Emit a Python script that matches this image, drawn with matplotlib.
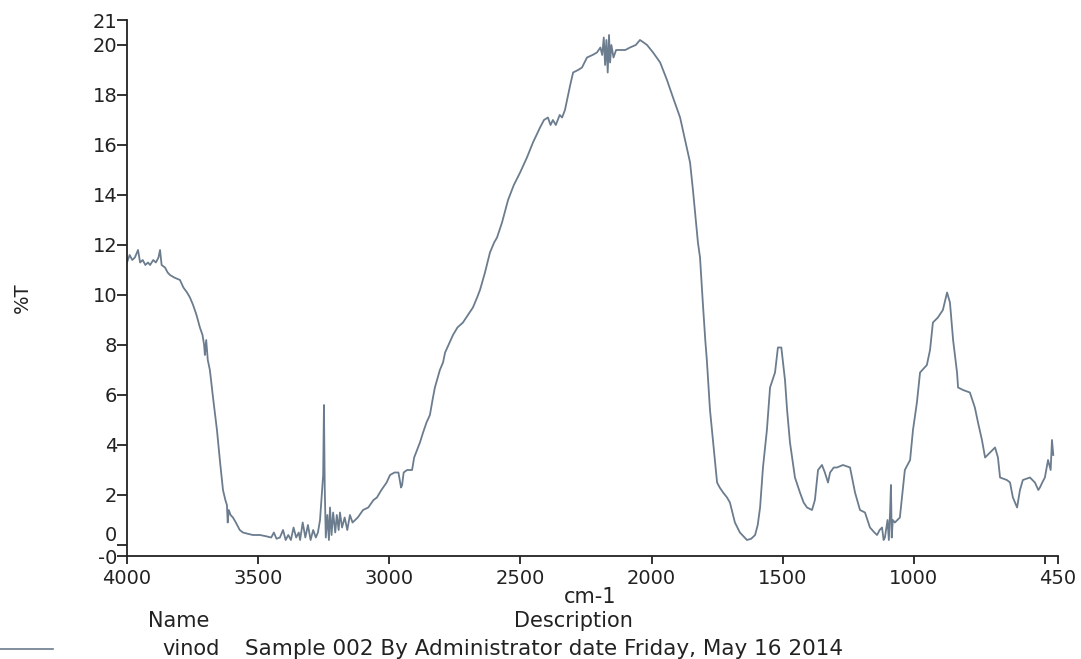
import matplotlib
matplotlib.use("Agg")
import matplotlib.pyplot as plt

# spectrum (cm-1, %T)
wavenumber = [4000, 3990, 3980, 3970, 3958, 3950, 3940, 3930, 3920, 3912, 3900, 3890, 3880, 3874, 3868,
              3855, 3845, 3836, 3820, 3798, 3785, 3771, 3760, 3748, 3735, 3722, 3712, 3706, 3703, 3698,
              3692, 3684, 3672, 3657, 3645, 3634, 3625, 3619, 3616, 3612, 3605, 3596, 3585, 3570, 3558,
              3540, 3520, 3493, 3470, 3450, 3440, 3430, 3417, 3405, 3395, 3385, 3375, 3365, 3355, 3345,
              3340, 3330, 3320, 3310, 3300, 3290, 3280, 3272, 3264, 3258, 3252, 3249, 3246, 3242, 3236,
              3230, 3226, 3220, 3214, 3206, 3200, 3193, 3188, 3180, 3170, 3160, 3150, 3140, 3120, 3100,
              3080, 3060, 3047, 3030, 3010, 2997, 2980, 2965, 2955, 2951, 2945, 2932, 2913, 2905, 2894,
              2883, 2871, 2858, 2845, 2835, 2826, 2815, 2807, 2795, 2787, 2770, 2757, 2740, 2719, 2700,
              2681, 2665, 2654, 2635, 2616, 2600, 2589, 2570, 2547, 2525, 2501, 2475, 2452, 2425, 2410,
              2395, 2385, 2376, 2365, 2350, 2341, 2330, 2322, 2310, 2299, 2280, 2265, 2246, 2225, 2208,
              2195, 2188, 2182, 2177, 2172, 2167, 2162, 2158, 2153, 2145, 2135, 2120, 2100, 2082, 2060,
              2044, 2030, 2017, 1994, 1967, 1941, 1918, 1891, 1872, 1853, 1842, 1823, 1815, 1805, 1795,
              1789, 1777, 1766, 1750, 1740, 1727, 1712, 1701, 1682, 1663, 1636, 1620, 1605, 1595, 1586,
              1575, 1560, 1548, 1529, 1518, 1505, 1491, 1483, 1472, 1453, 1434, 1420, 1407, 1388, 1377,
              1365, 1350, 1339, 1327, 1319, 1305, 1293, 1270, 1243, 1224, 1205, 1186, 1167, 1150, 1140,
              1130, 1121, 1115, 1110, 1100, 1095, 1090, 1087, 1084, 1080, 1072, 1053, 1034, 1014, 1003,
              988, 976, 950, 938, 927, 908, 889, 873, 862, 850, 835, 831, 812, 786, 767,
              755, 740, 728, 709, 690, 679, 671, 645, 633, 622, 606, 595, 584, 557, 538,
              525, 519, 510, 500, 488, 478, 473, 468]
transmittance = [11.3, 11.6, 11.4, 11.5, 11.8, 11.3, 11.4, 11.2, 11.3, 11.2, 11.4, 11.3, 11.5, 11.8, 11.2,
                 11.1, 10.9, 10.8, 10.7, 10.6, 10.3, 10.1, 9.9, 9.6, 9.2, 8.7, 8.4, 8.0, 7.6, 8.2,
                 7.4, 7.0, 5.9, 4.6, 3.3, 2.2, 1.8, 1.6, 0.9, 1.4, 1.2, 1.1, 0.9, 0.6, 0.5,
                 0.45, 0.4, 0.4, 0.35, 0.3, 0.5, 0.25, 0.3, 0.6, 0.2, 0.4, 0.2, 0.7, 0.3, 0.5,
                 0.2, 0.9, 0.3, 0.8, 0.2, 0.6, 0.3, 0.5, 1.0, 1.9, 2.8, 5.6, 2.3, 0.3, 1.2,
                 0.2, 1.5, 0.4, 1.3, 0.5, 1.2, 0.6, 1.3, 0.7, 1.1, 0.6, 1.2, 0.9, 1.1, 1.4,
                 1.5, 1.8, 1.9, 2.2, 2.5, 2.8, 2.9, 2.9, 2.3, 2.4, 2.9, 3.0, 3.0, 3.5, 3.8,
                 4.1, 4.5, 4.9, 5.2, 5.8, 6.3, 6.7, 7.0, 7.3, 7.7, 8.1, 8.4, 8.7, 8.9, 9.2,
                 9.5, 9.9, 10.2, 10.9, 11.7, 12.1, 12.3, 12.9, 13.8, 14.4, 14.9, 15.5, 16.1, 16.7, 17.0,
                 17.1, 16.8, 17.0, 16.8, 17.2, 17.1, 17.4, 17.8, 18.4, 18.9, 19.0, 19.1, 19.5, 19.6, 19.7,
                 19.9, 19.6, 20.3, 19.2, 20.2, 18.9, 20.4, 19.3, 20.0, 19.5, 19.8, 19.8, 19.8, 19.9, 20.0,
                 20.2, 20.1, 20.0, 19.7, 19.3, 18.6, 17.9, 17.1, 16.2, 15.3, 14.2, 12.1, 11.5, 9.8, 8.2,
                 7.4, 5.4, 4.2, 2.5, 2.3, 2.1, 1.9, 1.7, 0.9, 0.5, 0.2, 0.25, 0.4, 0.8, 1.5,
                 3.1, 4.6, 6.3, 6.9, 7.9, 7.9, 6.6, 5.4, 4.1, 2.7, 2.1, 1.7, 1.5, 1.4, 1.8,
                 3.0, 3.2, 2.9, 2.5, 2.9, 3.1, 3.1, 3.2, 3.1, 2.1, 1.4, 1.3, 0.7, 0.5, 0.4,
                 0.6, 0.7, 0.2, 0.3, 1.0, 0.2, 1.4, 2.4, 0.3, 1.0, 0.9, 1.1, 3.0, 3.4, 4.6,
                 5.7, 6.9, 7.2, 7.8, 8.9, 9.1, 9.4, 10.1, 9.7, 8.2, 6.9, 6.3, 6.2, 6.1, 5.5,
                 4.9, 4.2, 3.5, 3.7, 3.9, 3.5, 2.7, 2.6, 2.5, 1.9, 1.5, 2.2, 2.6, 2.7, 2.5,
                 2.2, 2.3, 2.5, 2.7, 3.4, 3.0, 4.2, 3.6]

xticks = [4000, 3500, 3000, 2500, 2000, 1500, 1000, 500, 450]
xtick_labels = ['4000', '3500', '3000', '2500', '2000', '1500', '1000', '', '450']
yticks = [-0.44, 0, 2, 4, 6, 8, 10, 12, 14, 16, 18, 20, 21]
ytick_labels = ['-0', '0', '2', '4', '6', '8', '10', '12', '14', '16', '18', '20', '21']

line_color = '#6b7c8e'
txt_color = '#222222'
fs = 14

fig = plt.figure(figsize=(10.81, 6.59), dpi=100)
ax = fig.add_axes([127/1081, 1-556/659, (1058-127)/1081, (556-20)/659])
ax.plot(wavenumber, transmittance, color=line_color, lw=1.3)

ax.set_xlim(4000, 450)
ax.set_ylim(-0.44, 21)
ax.set_xticks(xticks)
ax.set_xticklabels(xtick_labels)
ax.set_yticks(yticks)
ax.set_yticklabels(ytick_labels)
ax.spines['top'].set_visible(False)
ax.spines['right'].set_visible(False)
for s in ['left', 'bottom']:
    ax.spines[s].set_linewidth(1.3)
    ax.spines[s].set_color(txt_color)
ax.tick_params(axis='y', length=7, width=1.3, pad=0, labelsize=fs, colors=txt_color)
ax.tick_params(axis='x', length=6, width=1.3, pad=3, labelsize=fs, colors=txt_color)

# the "0" label sits just above its tick, like in the original
ax.get_yticklabels()[1].set_va('bottom')

fig.text(22/1081, 1-298/659, '%T', rotation=90, ha='center', va='center', fontsize=fs, color=txt_color)
fig.text(590/1081, 1-597/659, 'cm-1', ha='center', va='center', fontsize=15, color=txt_color)
fig.text(179/1081, 1-621/659, 'Name', ha='center', va='center', fontsize=15, color=txt_color)
fig.text(573/1081, 1-621/659, 'Description', ha='center', va='center', fontsize=15, color=txt_color)
fig.add_artist(plt.Line2D([0, 53/1081], [1-649/659, 1-649/659], color=line_color, lw=1.2))
fig.text(162/1081, 1-649/659, 'vinod', ha='left', va='center', fontsize=15, color=txt_color)
fig.text(245/1081, 1-649/659, 'Sample 002 By Administrator date Friday, May 16 2014',
         ha='left', va='center', fontsize=15.5, color=txt_color)

fig.savefig('out.png', dpi=100)
